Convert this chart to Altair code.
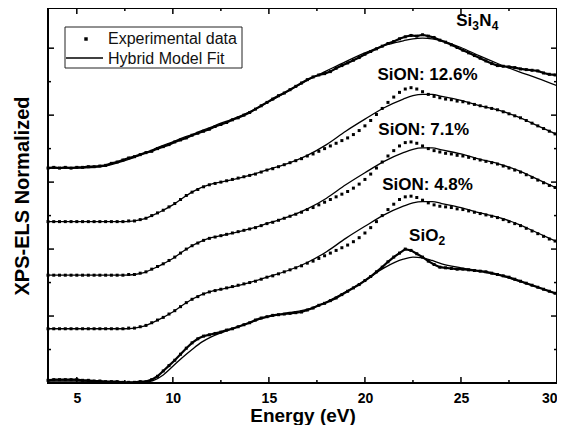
import altair as alt
import pandas as pd

# ---------------- data ----------------
energy = [3.5, 3.8, 4.1, 4.4, 4.7, 5.0, 5.3, 5.6, 5.9, 6.2,
          6.5, 6.8, 7.1, 7.4, 7.7, 8.0, 8.3, 8.6, 8.9, 9.2,
          9.5, 9.8, 10.1, 10.4, 10.7, 11.0, 11.3, 11.6, 11.9, 12.2,
          12.5, 12.8, 13.1, 13.4, 13.7, 14.0, 14.3, 14.6, 14.9, 15.2,
          15.5, 15.8, 16.1, 16.4, 16.7, 17.0, 17.3, 17.6, 17.9, 18.2,
          18.5, 18.8, 19.1, 19.4, 19.7, 20.0, 20.3, 20.6, 20.9, 21.2,
          21.5, 21.8, 22.1, 22.4, 22.7, 23.0, 23.3, 23.6, 23.9, 24.2,
          24.5, 24.8, 25.1, 25.4, 25.7, 26.0, 26.3, 26.6, 26.9, 27.2,
          27.5, 27.8, 28.1, 28.4, 28.7, 29.0, 29.3, 29.6, 29.9]

si3n4 = [3.21, 3.22, 3.21, 3.22, 3.21, 3.22, 3.22, 3.23, 3.23, 3.24,
         3.25, 3.28, 3.30, 3.33, 3.36, 3.38, 3.41, 3.44, 3.46, 3.50,
         3.53, 3.56, 3.60, 3.63, 3.66, 3.70, 3.73, 3.76, 3.79, 3.83,
         3.86, 3.89, 3.93, 3.96, 4.00, 4.04, 4.09, 4.14, 4.19, 4.24,
         4.29, 4.33, 4.38, 4.43, 4.48, 4.53, 4.57, 4.60, 4.62, 4.65,
         4.70, 4.74, 4.78, 4.82, 4.86, 4.91, 4.95, 4.99, 5.03, 5.07,
         5.10, 5.14, 5.17, 5.19, 5.18, 5.20, 5.18, 5.16, 5.12, 5.09,
         5.05, 5.01, 4.97, 4.93, 4.89, 4.85, 4.81, 4.77, 4.74, 4.73,
         4.72, 4.71, 4.69, 4.68, 4.67, 4.66, 4.63, 4.61, 4.60]

sion_126 = [2.41, 2.41, 2.41, 2.41, 2.41, 2.41, 2.41, 2.41, 2.41, 2.41,
            2.41, 2.41, 2.41, 2.41, 2.42, 2.42, 2.44, 2.46, 2.50, 2.54,
            2.58, 2.63, 2.68, 2.74, 2.80, 2.85, 2.89, 2.93, 2.96, 2.98,
            3.00, 3.02, 3.04, 3.06, 3.08, 3.10, 3.12, 3.15, 3.18, 3.20,
            3.23, 3.26, 3.29, 3.32, 3.35, 3.39, 3.42, 3.46, 3.50, 3.54,
            3.58, 3.62, 3.66, 3.71, 3.77, 3.84, 3.92, 4.01, 4.10, 4.19,
            4.27, 4.34, 4.39, 4.41, 4.39, 4.35, 4.31, 4.28, 4.26, 4.24,
            4.23, 4.21, 4.20, 4.18, 4.16, 4.14, 4.12, 4.10, 4.08, 4.05,
            4.02, 3.99, 3.96, 3.92, 3.88, 3.84, 3.80, 3.76, 3.72]

sion_71 = [1.61, 1.61, 1.61, 1.61, 1.61, 1.61, 1.61, 1.61, 1.61, 1.61,
           1.61, 1.61, 1.61, 1.61, 1.62, 1.62, 1.64, 1.66, 1.70, 1.74,
           1.78, 1.83, 1.88, 1.94, 2.00, 2.05, 2.09, 2.13, 2.16, 2.18,
           2.20, 2.22, 2.24, 2.26, 2.28, 2.30, 2.32, 2.35, 2.38, 2.40,
           2.43, 2.46, 2.49, 2.52, 2.55, 2.59, 2.62, 2.66, 2.70, 2.74,
           2.78, 2.82, 2.86, 2.91, 2.97, 3.04, 3.12, 3.21, 3.30, 3.39,
           3.47, 3.54, 3.59, 3.60, 3.58, 3.54, 3.50, 3.47, 3.45, 3.43,
           3.42, 3.40, 3.39, 3.37, 3.35, 3.33, 3.31, 3.29, 3.27, 3.24,
           3.21, 3.18, 3.15, 3.11, 3.07, 3.03, 2.99, 2.95, 2.92]

sion_48 = [0.81, 0.81, 0.81, 0.81, 0.81, 0.81, 0.81, 0.81, 0.81, 0.81,
           0.81, 0.81, 0.81, 0.81, 0.82, 0.82, 0.84, 0.86, 0.90, 0.94,
           0.98, 1.03, 1.08, 1.14, 1.20, 1.25, 1.29, 1.33, 1.36, 1.38,
           1.40, 1.42, 1.44, 1.46, 1.48, 1.50, 1.52, 1.55, 1.58, 1.60,
           1.63, 1.66, 1.69, 1.72, 1.75, 1.79, 1.82, 1.86, 1.90, 1.94,
           1.98, 2.02, 2.06, 2.11, 2.17, 2.24, 2.32, 2.41, 2.50, 2.59,
           2.67, 2.74, 2.78, 2.79, 2.77, 2.73, 2.69, 2.66, 2.64, 2.63,
           2.62, 2.60, 2.59, 2.57, 2.55, 2.53, 2.51, 2.49, 2.47, 2.44,
           2.41, 2.38, 2.35, 2.31, 2.27, 2.23, 2.19, 2.15, 2.12]

sio2 = [0.04, 0.05, 0.05, 0.05, 0.05, 0.05, 0.04, 0.04, 0.03, 0.03,
        0.02, 0.02, 0.02, 0.01, 0.01, 0.01, 0.02, 0.02, 0.05, 0.10,
        0.18, 0.26, 0.34, 0.43, 0.52, 0.60, 0.66, 0.70, 0.72, 0.74,
        0.76, 0.79, 0.81, 0.84, 0.87, 0.90, 0.94, 0.97, 0.99, 1.01,
        1.02, 1.03, 1.04, 1.05, 1.06, 1.09, 1.12, 1.16, 1.19, 1.23,
        1.27, 1.32, 1.37, 1.42, 1.47, 1.53, 1.59, 1.66, 1.73, 1.81,
        1.88, 1.94, 2.00, 1.98, 1.93, 1.88, 1.82, 1.77, 1.73, 1.72,
        1.71, 1.70, 1.70, 1.69, 1.68, 1.67, 1.66, 1.64, 1.62, 1.60,
        1.58, 1.55, 1.52, 1.49, 1.46, 1.43, 1.40, 1.37, 1.34]

fit_energy = [3.5, 5, 6.5, 7.5, 8, 8.5, 9, 9.5, 10, 10.5, 11, 11.5, 12, 12.5,
              13, 14, 15, 16, 17, 18, 19, 20, 21, 22, 22.5, 23, 23.5, 24,
              25, 26, 27, 28, 29, 30]
fit_si3n4 = [3.21, 3.21, 3.24, 3.32, 3.37, 3.43, 3.49, 3.55, 3.60, 3.66, 3.71,
             3.77, 3.82, 3.88, 3.93, 4.05, 4.20, 4.36, 4.52, 4.66, 4.80, 4.93,
             5.04, 5.11, 5.14, 5.15, 5.14, 5.11, 5.01, 4.88, 4.76, 4.65, 4.55, 4.44]
fit_sion_126 = [2.41, 2.41, 2.41, 2.41, 2.42, 2.45, 2.51, 2.58, 2.66, 2.76, 2.85,
                2.92, 2.97, 3.00, 3.03, 3.10, 3.19, 3.28, 3.40, 3.56, 3.76, 3.94,
                4.11, 4.24, 4.29, 4.31, 4.31, 4.28, 4.22, 4.14, 4.07, 3.97, 3.84, 3.71]
fit_sion_71 = [1.61, 1.61, 1.61, 1.61, 1.62, 1.65, 1.71, 1.78, 1.86, 1.96, 2.05,
               2.12, 2.17, 2.20, 2.23, 2.30, 2.39, 2.48, 2.60, 2.76, 2.96, 3.14,
               3.31, 3.44, 3.49, 3.51, 3.51, 3.48, 3.42, 3.34, 3.27, 3.17, 3.04, 2.91]
fit_sion_48 = [0.81, 0.81, 0.81, 0.81, 0.82, 0.85, 0.91, 0.98, 1.06, 1.16, 1.25,
               1.32, 1.37, 1.40, 1.43, 1.50, 1.59, 1.68, 1.80, 1.96, 2.16, 2.34,
               2.51, 2.64, 2.69, 2.71, 2.71, 2.68, 2.62, 2.54, 2.47, 2.37, 2.24, 2.11]
fit_sio2 = [0.03, 0.03, 0.02, 0.01, 0.01, 0.01, 0.04, 0.12, 0.25, 0.38, 0.50,
            0.61, 0.69, 0.75, 0.80, 0.90, 0.99, 1.05, 1.10, 1.21, 1.36, 1.53,
            1.72, 1.85, 1.88, 1.87, 1.83, 1.78, 1.72, 1.67, 1.61, 1.52, 1.43, 1.33]

series_names = ["Si3N4", "SiON 12.6%", "SiON 7.1%", "SiON 4.8%", "SiO2"]

# plain curve labels (no subscripts)
plain_labels = ["SiON: 12.6%", "SiON: 7.1%", "SiON: 4.8%"]
plain_energy = [20.65, 20.7, 20.9]
plain_level = [4.60, 3.78, 2.96]

# chemical formula labels built from pieces: (text, is_subscript, pixel advance)
si3n4_pieces = [("Si", False, 0), ("3", True, 16), ("N", False, 23), ("4", True, 35.5)]
si3n4_pos = (24.75, 5.41)
sio2_pieces = [("SiO", False, 0), ("2", True, 29.5)]
sio2_pos = (22.3, 2.20)

legend_labels = ["Experimental data", "Hybrid Model Fit"]

x_major = [5, 10, 15, 20, 25, 30]
x_minor = [7.5, 12.5, 17.5, 22.5, 27.5]
y_major = [1, 2, 3, 4, 5]
y_minor = [0.5, 1.5, 2.5, 3.5, 4.5]

# ---------------- tables ----------------
exp_series = [si3n4, sion_126, sion_71, sion_48, sio2]
fit_series = [fit_si3n4, fit_sion_126, fit_sion_71, fit_sion_48, fit_sio2]

exp_rows = []
for name, vals in zip(series_names, exp_series):
    for e, v in zip(energy, vals):
        exp_rows.append({"E": e, "I": v, "series": name})
exp_df = pd.DataFrame(exp_rows)

fit_rows = []
for name, vals in zip(series_names, fit_series):
    for e, v in zip(fit_energy, vals):
        fit_rows.append({"E": e, "I": v, "series": name})
fit_df = pd.DataFrame(fit_rows)

lab_df = pd.DataFrame({"E": plain_energy, "I": plain_level, "text": plain_labels})

W, H = 509, 375
FONT = "Liberation Sans"

xscale = alt.Scale(domain=[3.5, 30], nice=False, zero=False)
yscale = alt.Scale(domain=[0, 5.6], nice=False, zero=False)

xaxis = alt.Axis(values=x_major, format="d", ticks=False, tickSize=0, domain=False,
                 grid=False, labelFont=FONT, labelFontWeight="bold", labelFontSize=14,
                 labelColor="black", labelPadding=8, labelFlush=True,
                 title="Energy (eV)", titleFont=FONT, titleFontWeight="bold",
                 titleFontSize=19, titleColor="black", titlePadding=1)
yaxis = alt.Axis(labels=False, ticks=False, tickSize=0, domain=False, grid=False,
                 minExtent=0, title="XPS-ELS Normalized", titleFont=FONT,
                 titleFontWeight="bold", titleFontSize=20, titleColor="black",
                 titlePadding=16)

X = alt.X("E:Q", scale=xscale, axis=xaxis)
Y = alt.Y("I:Q", scale=yscale, axis=yaxis)

thick = exp_df[exp_df["series"].isin(["Si3N4", "SiO2"])]

exp_line = alt.Chart(thick).mark_line(color="black", strokeWidth=2.2).encode(
    x=X, y=Y, detail="series:N")
exp_pts = alt.Chart(exp_df).mark_square(color="black", size=9, opacity=1).encode(
    x=X, y=Y)
fit_line = alt.Chart(fit_df).mark_line(color="black", strokeWidth=1.3,
                                       interpolate="monotone").encode(
    x=X, y=Y, detail="series:N")
labels = alt.Chart(lab_df).mark_text(align="left", baseline="middle", font=FONT,
                                     fontSize=17, fontWeight="bold", color="black").encode(
    x=X, y=Y, text="text:N")


def formula(pieces, pos):
    d = pd.DataFrame({"E": [pos[0]], "I": [pos[1]]})
    out = []
    for txt, sub, adv in pieces:
        out.append(alt.Chart(d).mark_text(
            text=txt, align="left", baseline="middle", font=FONT,
            fontSize=12 if sub else 17, fontWeight="bold", color="black",
            dx=adv, dy=5 if sub else 0).encode(x=X, y=Y))
    return out


formula_layers = formula(si3n4_pieces, si3n4_pos) + formula(sio2_pieces, sio2_pos)


# inward ticks on all four sides
def xticks(vals, length):
    d = pd.DataFrame({"E": vals})
    bot = alt.Chart(d).mark_rule(color="black", strokeWidth=1.5).encode(
        x=X, y=alt.value(H), y2=alt.value(H - length))
    top = alt.Chart(d).mark_rule(color="black", strokeWidth=1.5).encode(
        x=X, y=alt.value(0), y2=alt.value(length))
    return [bot, top]


def yticks(vals, length):
    d = pd.DataFrame({"I": vals})
    left = alt.Chart(d).mark_rule(color="black", strokeWidth=1.5).encode(
        y=Y, x=alt.value(0), x2=alt.value(length))
    right = alt.Chart(d).mark_rule(color="black", strokeWidth=1.5).encode(
        y=Y, x=alt.value(W), x2=alt.value(W - length))
    return [left, right]


ticks = xticks(x_major, 6) + xticks(x_minor, 3) + yticks(y_major, 6) + yticks(y_minor, 3)

# legend box
one = pd.DataFrame({"k": [0]})
leg_box = alt.Chart(one).mark_rect(fill="white", stroke="#222", strokeWidth=1).encode(
    x=alt.value(17), x2=alt.value(194), y=alt.value(19), y2=alt.value(60))
leg_sq = alt.Chart(one).mark_square(color="black", size=12, opacity=1).encode(
    x=alt.value(38), y=alt.value(31))
leg_ln = alt.Chart(one).mark_rule(color="black", strokeWidth=1.5).encode(
    x=alt.value(18), x2=alt.value(55), y=alt.value(50))
leg_t1 = alt.Chart(one).mark_text(text=legend_labels[0], align="left", baseline="middle",
                                  font=FONT, fontSize=16, color="#111").encode(
    x=alt.value(60), y=alt.value(31))
leg_t2 = alt.Chart(one).mark_text(text=legend_labels[1], align="left", baseline="middle",
                                  font=FONT, fontSize=16, color="#111").encode(
    x=alt.value(60), y=alt.value(51))

chart = alt.layer(
    exp_line, exp_pts, fit_line, labels, *formula_layers, *ticks,
    leg_box, leg_sq, leg_ln, leg_t1, leg_t2
).properties(
    width=W, height=H,
    autosize=alt.AutoSizeParams(type="none"),
    padding={"left": 40, "top": 0, "right": 0, "bottom": 42},
    background="white",
).configure_view(stroke="black", strokeWidth=2)

chart.save("out.html", embed_options={"renderer": "svg", "actions": False})
